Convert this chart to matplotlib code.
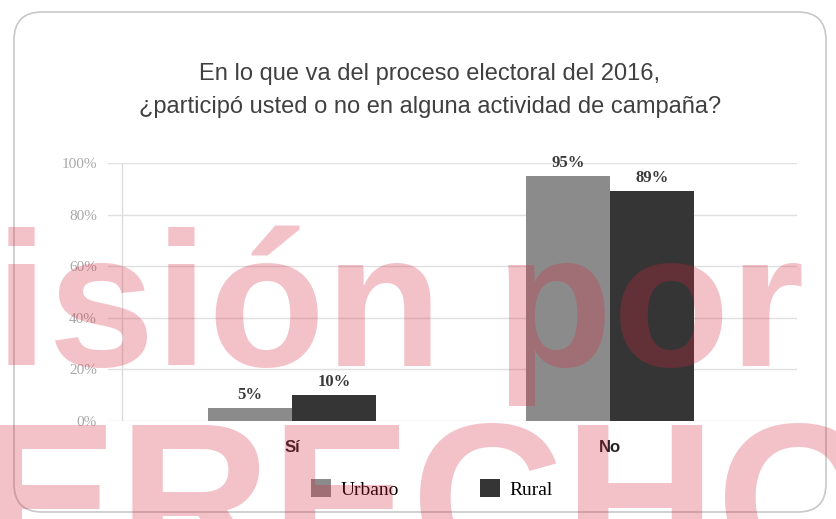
import matplotlib
matplotlib.use("Agg")
import matplotlib.pyplot as plt
from matplotlib.patches import FancyBboxPatch, Patch
from matplotlib.transforms import IdentityTransform
import numpy as np

categories = ["Sí", "No"]
series_names = ["Urbano", "Rural"]
urbano = [5, 95]
rural = [10, 89]
yticks = [0, 20, 40, 60, 80, 100]
title_lines = ["En lo que va del proceso electoral del 2016,",
               "¿participó usted o no en alguna actividad de campaña?"]

W, H = 836, 519
fig = plt.figure(figsize=(W / 100, H / 100), dpi=100)
fig.patch.set_facecolor("white")


def fx(x):
    return x / W


def fy(y):
    return 1 - y / H


sans = ["Liberation Sans", "DejaVu Sans"]
serif = ["Liberation Serif", "DejaVu Serif"]

# rounded frame
frame = FancyBboxPatch((14, H - 512), 812, 500, boxstyle="round,pad=0,rounding_size=28",
                       transform=IdentityTransform(), facecolor="white",
                       edgecolor="#c8c8c8", linewidth=1.2, zorder=0)
fig.add_artist(frame)

for line, yb in zip(title_lines, [80, 113]):
    fig.text(fx(430), fy(yb), line, ha="center", va="baseline", family=sans,
             fontsize=17, color="#404040")

ax = fig.add_axes([fx(108), fy(421), fx(797) - fx(108), (421 - 163) / H])
ax.set_facecolor("none")
x = np.arange(len(categories))
w = 84 / 318
ax.bar(x - w / 2, urbano, w, color="#8b8b8b", zorder=3, label=series_names[0])
ax.bar(x + w / 2, rural, w, color="#353535", zorder=3, label=series_names[1])

for xi, v in zip(x, urbano):
    ax.text(xi - w / 2, v + 2, f"{v}%", ha="center", va="bottom", family=serif,
            weight="bold", fontsize=12, color="#3a3a3a", zorder=4)
for xi, v in zip(x, rural):
    ax.text(xi + w / 2, v + 2, f"{v}%", ha="center", va="bottom", family=serif,
            weight="bold", fontsize=12, color="#3a3a3a", zorder=4)

ax.set_xlim((108 - 292) / 318, (797 - 292) / 318)
ax.set_ylim(0, 100)
ax.set_yticks(yticks)
ax.set_yticklabels([f"{t}%" for t in yticks], family=serif, fontsize=11, color="#a8a8a8")
ax.set_xticks(x)
ax.set_xticklabels(categories, family=sans, weight="bold", fontsize=12, color="#222222")
ax.tick_params(axis="y", length=0, pad=8)
ax.tick_params(axis="x", length=0, pad=14)
ax.yaxis.grid(True, color="#e0e0e0", linewidth=1, zorder=0)
ax.axvline((122 - 292) / 318, color="#dcdcdc", linewidth=1, zorder=1)
for s in ax.spines.values():
    s.set_visible(False)

handles = [Patch(facecolor="#8b8b8b"), Patch(facecolor="#353535")]
fig.legend(handles, series_names, loc="center", bbox_to_anchor=(fx(432), fy(489)),
           ncol=2, frameon=False, prop={"family": serif, "size": 14},
           handlelength=1.0, handleheight=1.0, handletextpad=0.5, columnspacing=4.2)

# watermark
wm = dict(family=sans, weight="bold", color="#d7263d", alpha=0.28, zorder=10)
fig.text(fx(-5), fy(366), "isión por d", ha="left", va="baseline", fontsize=138, **wm)
fig.text(fx(-174), fy(417), "DERECHO", ha="left", va="top", fontsize=152, **wm)

fig.savefig("out.png", dpi=100)
